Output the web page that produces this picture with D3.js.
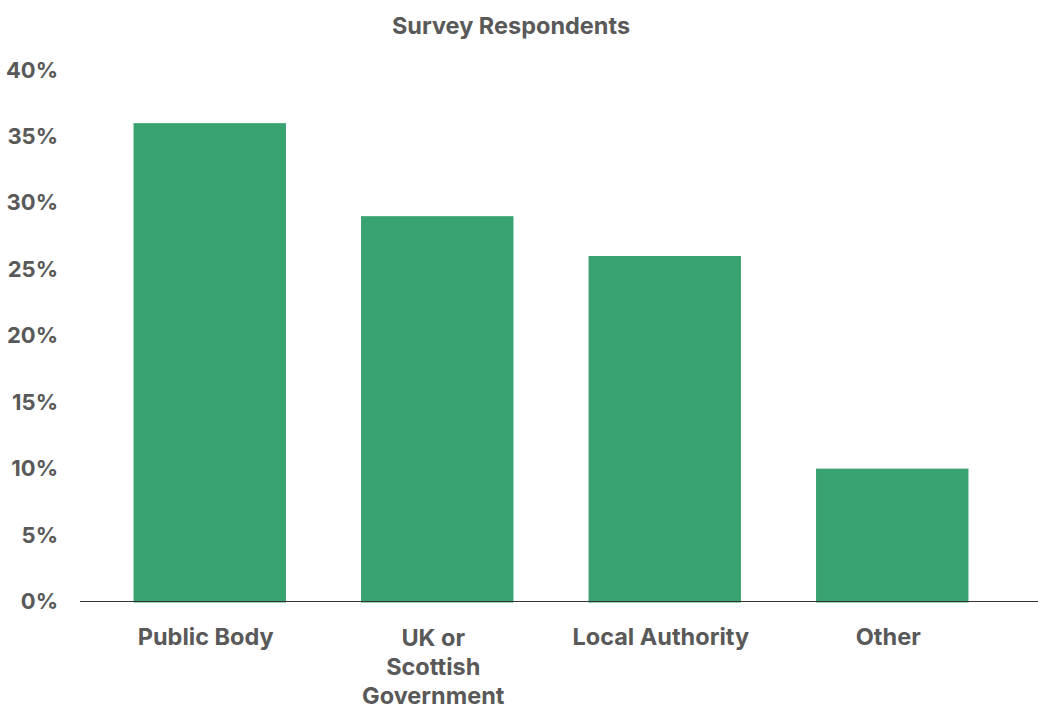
<!DOCTYPE html>
<html>
<head>
<meta charset="utf-8">
<script src="https://cdn.jsdelivr.net/npm/d3@7"></script>
<style>
  html, body { margin: 0; padding: 0; background: #fff; }
  svg { display: block; font-family: Inter, "Noto Sans", sans-serif; }
</style>
</head>
<body>
<svg id="chart" width="1038" height="706"></svg>
<script>
// Share of survey respondents by organisation type (%)
const categories = ["Public Body", "UK or Scottish Government", "Local Authority", "Other"];
const categoryLines = [["Public Body"], ["UK or", "Scottish", "Government"], ["Local Authority"], ["Other"]];
const shares = [36, 29, 26, 10];
const yTicks = [0, 5, 10, 15, 20, 25, 30, 35, 40];
const title = "Survey Respondents";

const svg = d3.select("#chart");
const textColor = "#595959";
const barColor = "#38a271";

const x = d3.scaleBand()
  .domain(categories)
  .range([96, 1006])
  .paddingInner(0.33)
  .paddingOuter(0.165);

const y = d3.scaleLinear()
  .domain([0, 40])
  .range([601.5, 70]);

// Title
svg.append("text")
  .attr("x", 511)
  .attr("y", 25)
  .attr("text-anchor", "middle")
  .attr("dominant-baseline", "central")
  .attr("font-size", 23.5)
  .attr("font-weight", 700)
  .attr("fill", textColor)
  .text(title);

// Bars
svg.append("g")
  .selectAll("rect")
  .data(categories)
  .join("rect")
  .attr("x", d => x(d))
  .attr("width", x.bandwidth())
  .attr("y", (d, i) => y(shares[i]))
  .attr("height", (d, i) => y(0) - y(shares[i]) + 1)
  .attr("fill", barColor);

// Y axis (labels only)
const yAxis = d3.axisLeft(y)
  .tickValues(yTicks)
  .tickFormat(d => d + "%")
  .tickSize(0)
  .tickPadding(0);

const yg = svg.append("g")
  .attr("transform", "translate(58,0)")
  .call(yAxis);
yg.select(".domain").remove();
yg.selectAll("text")
  .attr("font-family", "Inter, 'Noto Sans', sans-serif")
  .attr("font-size", 22)
  .attr("font-weight", 700)
  .attr("fill", textColor);

// X axis baseline
svg.append("line")
  .attr("x1", 80)
  .attr("x2", 1038)
  .attr("y1", y(0))
  .attr("y2", y(0))
  .attr("stroke", "#333")
  .attr("stroke-width", 1.2);

// Category labels, wrapped into lines
const lineHeight = 29;
const labels = svg.append("g")
  .selectAll("text")
  .data(categories)
  .join("text")
  .attr("text-anchor", "middle")
  .attr("font-size", 23.5)
  .attr("font-weight", 700)
  .attr("fill", textColor)
  .attr("transform", d => `translate(${x(d) + x.bandwidth() / 2 - 4},0)`);

labels.each(function(d, i) {
  const lines = categoryLines[i];
  const t = d3.select(this);
  const top = lines.length > 1 ? 637 : 636;
  lines.forEach((ln, j) => {
    t.append("tspan")
      .attr("x", 0)
      .attr("y", top + j * lineHeight)
      .attr("dominant-baseline", "central")
      .text(ln);
  });
});
</script>
</body>
</html>
